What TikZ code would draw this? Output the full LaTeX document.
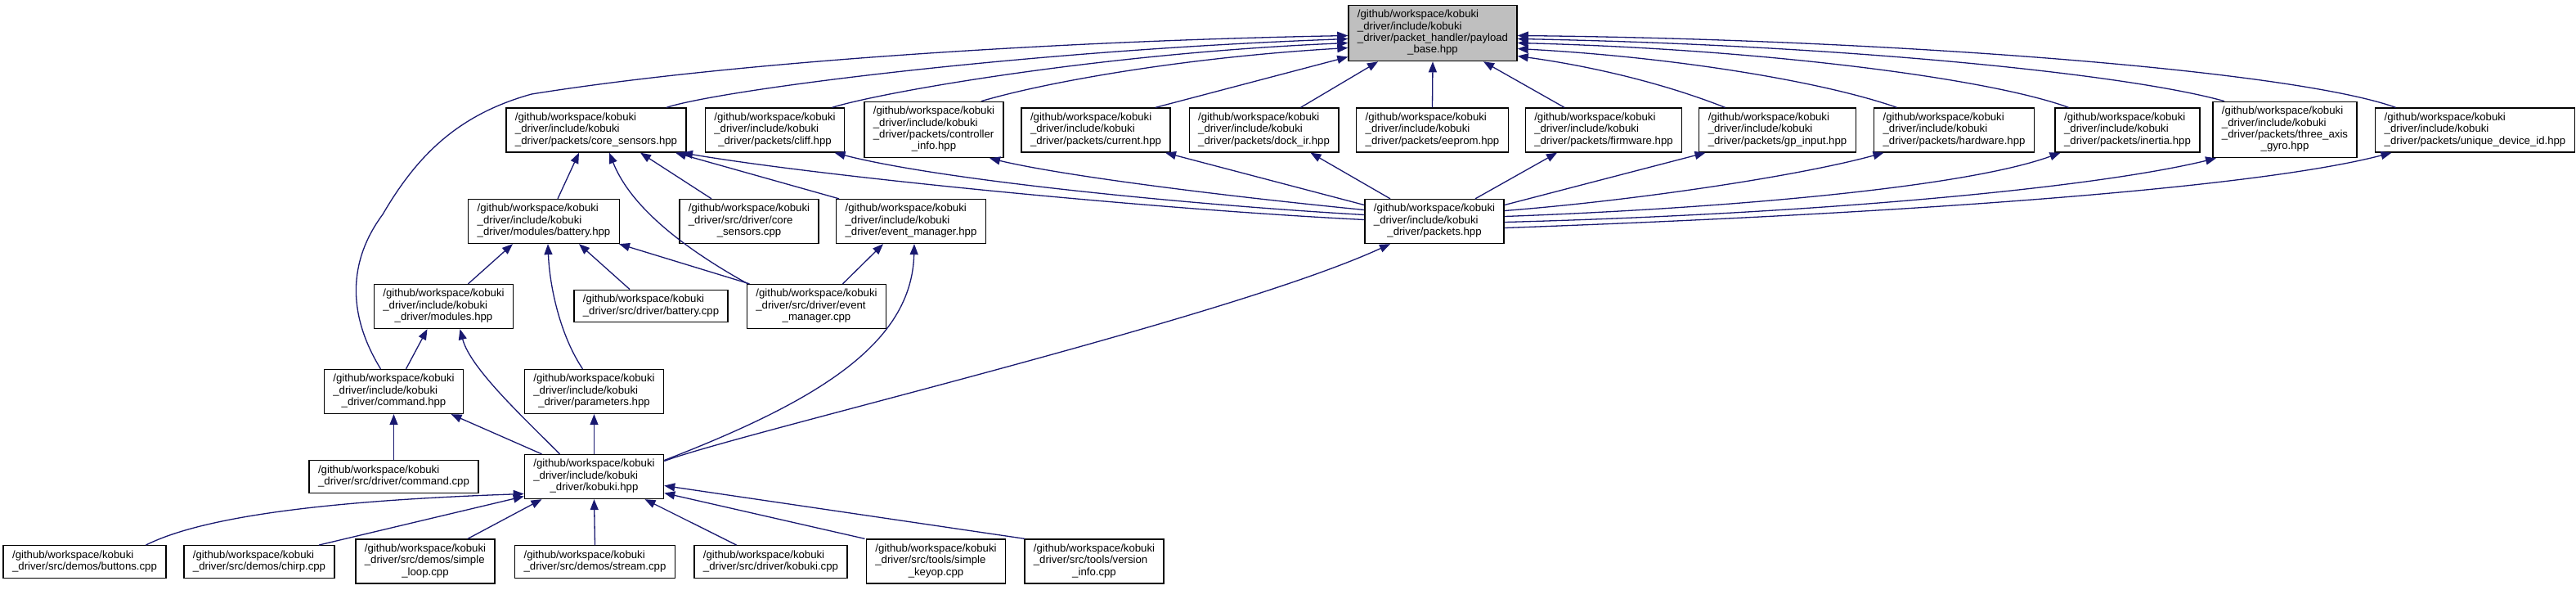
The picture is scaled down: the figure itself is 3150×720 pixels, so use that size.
\documentclass[tikz,border=0pt]{standalone}
\usepackage{fontspec}
\setmainfont{Liberation Sans}
\usetikzlibrary{arrows.meta}
\definecolor{edgeBlue}{HTML}{191970}
\definecolor{rootGray}{HTML}{BFBFBF}
\newcommand{\flab}[2]{\begin{tabular}{@{}l@{}}#1\\\multicolumn{1}{@{}c@{}}{#2}\end{tabular}}
\newcommand{\gwk}{/github/workspace/kobuki}
\newcommand{\dik}{\_driver/include/kobuki}

\begin{document}
\begin{tikzpicture}[
    x=1pt, y=-1pt,
    filebox/.style={rectangle, draw=black, fill=white, line width=1.3pt,
                    inner xsep=11pt, inner ysep=5.4pt,
                    font=\fontsize{13.2}{14.4}\selectfont},
    rootbox/.style={filebox, fill=rootGray},
    edge/.style={-{Triangle[length=13pt,width=10pt]}, line width=1.3pt, edgeBlue},
  ]
    \useasboundingbox (0,0) rectangle (3150,720);

    % included header
    \node[rootbox] (pb) at (1752,40.5) {\flab{\gwk\\\dik\\\_driver/packet\_handler/payload}{\_base.hpp}};

    % packet headers
    \node[filebox] (cs)    at (729,159)    {\flab{\gwk\\\dik}{\_driver/packets/core\_sensors.hpp}};
    \node[filebox] (cliff) at (947.5,159)  {\flab{\gwk\\\dik}{\_driver/packets/cliff.hpp}};
    \node[filebox] (ctrl)  at (1142,158.5) {\flab{\gwk\\\dik\\\_driver/packets/controller}{\_info.hpp}};
    \node[filebox] (cur)   at (1340,159)   {\flab{\gwk\\\dik}{\_driver/packets/current.hpp}};
    \node[filebox] (dock)  at (1545.5,159) {\flab{\gwk\\\dik}{\_driver/packets/dock\_ir.hpp}};
    \node[filebox] (eep)   at (1751.5,159) {\flab{\gwk\\\dik}{\_driver/packets/eeprom.hpp}};
    \node[filebox] (fw)    at (1961,159)   {\flab{\gwk\\\dik}{\_driver/packets/firmware.hpp}};
    \node[filebox] (gp)    at (2173.5,159) {\flab{\gwk\\\dik}{\_driver/packets/gp\_input.hpp}};
    \node[filebox] (hw)    at (2389.5,159) {\flab{\gwk\\\dik}{\_driver/packets/hardware.hpp}};
    \node[filebox] (inr)   at (2601.5,159) {\flab{\gwk\\\dik}{\_driver/packets/inertia.hpp}};
    \node[filebox] (gyro)  at (2794,158.5) {\flab{\gwk\\\dik\\\_driver/packets/three\_axis}{\_gyro.hpp}};
    \node[filebox] (uid)   at (3026.5,159) {\flab{\gwk\\\dik}{\_driver/packets/unique\_device\_id.hpp}};

    \node[filebox] (bh)  at (665,270.5)  {\flab{\gwk\\\dik}{\_driver/modules/battery.hpp}};
    \node[filebox] (csc) at (916,270.5)  {\flab{\gwk\\\_driver/src/driver/core}{\_sensors.cpp}};
    \node[filebox] (emh) at (1114,270.5) {\flab{\gwk\\\dik}{\_driver/event\_manager.hpp}};
    \node[filebox] (pk)  at (1754,270.5) {\flab{\gwk\\\dik}{\_driver/packets.hpp}};

    \node[filebox] (mh)  at (542.5,374.5) {\flab{\gwk\\\dik}{\_driver/modules.hpp}};
    \node[filebox] (bc)  at (796,374)     {\flab{\gwk}{\_driver/src/driver/battery.cpp}};
    \node[filebox] (emc) at (998.5,374.5) {\flab{\gwk\\\_driver/src/driver/event}{\_manager.cpp}};

    \node[filebox] (ch) at (481.5,478.5) {\flab{\gwk\\\dik}{\_driver/command.hpp}};
    \node[filebox] (ph) at (726.5,478.5) {\flab{\gwk\\\dik}{\_driver/parameters.hpp}};

    \node[filebox] (ccpp) at (481.5,582.5) {\flab{\gwk}{\_driver/src/driver/command.cpp}};
    \node[filebox] (kob)  at (726.5,582.5) {\flab{\gwk\\\dik}{\_driver/kobuki.hpp}};

    % sources
    \node[filebox] (btn)    at (103.5,686.5) {\flab{\gwk}{\_driver/src/demos/buttons.cpp}};
    \node[filebox] (chirp)  at (317,686.5)   {\flab{\gwk}{\_driver/src/demos/chirp.cpp}};
    \node[filebox] (sloop)  at (520,686)     {\flab{\gwk\\\_driver/src/demos/simple}{\_loop.cpp}};
    \node[filebox] (stream) at (727.5,686.5) {\flab{\gwk}{\_driver/src/demos/stream.cpp}};
    \node[filebox] (kcpp)   at (942.5,686.5) {\flab{\gwk}{\_driver/src/driver/kobuki.cpp}};
    \node[filebox] (skey)   at (1144.5,686)  {\flab{\gwk\\\_driver/src/tools/simple}{\_keyop.cpp}};
    \node[filebox] (vinfo)  at (1338,686)    {\flab{\gwk\\\_driver/src/tools/version}{\_info.cpp}};

    % into payload_base
    \draw[edge] ([xshift=-16pt]ch.north) .. controls (425,385) and (425,320) .. (468,262)
          .. controls (510,190) and (560,140) .. (650,115)
          .. controls (900,75) and (1300,50) .. ([yshift=-3pt]pb.west);
    \draw[edge] ([xshift=86pt]cs.north) .. controls (880,110) and (1250,62) .. ([yshift=-7pt]pb.west);
    \draw[edge] ([xshift=70pt]cliff.north) .. controls (1080,112) and (1350,65) .. ([yshift=-12pt]pb.west);
    \draw[edge] ([xshift=58pt]ctrl.north) .. controls (1280,100) and (1450,70) .. ([yshift=-18pt]pb.west);
    \draw[edge] ([xshift=73pt]cur.north) -- ([yshift=-29pt]pb.west);
    \draw[edge] ([xshift=45pt]dock.north) -- ([xshift=-67pt]pb.south);
    \draw[edge] (eep.north) -- (pb.south);
    \draw[edge] ([xshift=-48pt]fw.north) -- ([xshift=62pt]pb.south);
    \draw[edge] ([xshift=-64pt]gp.north) .. controls (2030,100) and (1940,80) .. ([yshift=-28pt]pb.east);
    \draw[edge] ([xshift=-70pt]hw.north) .. controls (2230,100) and (2050,70) .. ([yshift=-19pt]pb.east);
    \draw[edge] ([xshift=-72pt]inr.north) .. controls (2430,95) and (2150,60) .. ([yshift=-12pt]pb.east);
    \draw[edge] ([xshift=-74pt]gyro.north) .. controls (2600,90) and (2250,55) .. ([yshift=-7pt]pb.east);
    \draw[edge] ([xshift=-97pt]uid.north) .. controls (2800,85) and (2300,48) .. ([yshift=-3pt]pb.east);

    % packets.hpp
    \draw[edge] ([yshift=2pt]pk.west) .. controls (1400,255) and (1000,215) .. ([xshift=105pt]cs.south);
    \draw[edge] ([yshift=8pt]pk.west) .. controls (1450,250) and (1150,220) .. ([xshift=73pt]cliff.south);
    \draw[edge] ([yshift=14pt]pk.west) .. controls (1500,240) and (1300,215) .. ([xshift=68pt]ctrl.south);
    \draw[edge] ([yshift=20pt]pk.west) -- ([xshift=85pt]cur.south);
    \draw[edge] ([xshift=-54pt]pk.north) -- ([xshift=57pt]dock.south);
    \draw[edge] ([xshift=50pt]pk.north) -- ([xshift=-57pt]fw.south);
    \draw[edge] ([yshift=20pt]pk.east) -- ([xshift=-88pt]gp.south);
    \draw[edge] ([yshift=13pt]pk.east) .. controls (2000,245) and (2200,215) .. ([xshift=-86pt]hw.south);
    \draw[edge] ([yshift=6pt]pk.east) .. controls (2100,255) and (2400,230) .. ([xshift=-82pt]inr.south);
    \draw[edge] ([yshift=-1pt]pk.east) .. controls (2200,262) and (2550,232) .. ([xshift=-84pt]gyro.south);
    \draw[edge] ([yshift=-8pt]pk.east) .. controls (2300,262) and (2750,232) .. ([xshift=-102pt]uid.south);

    % core_sensors.hpp, battery.hpp, event_manager.hpp
    \draw[edge] ([xshift=17pt]bh.north) -- ([xshift=-21pt]cs.south);
    \draw[edge] ([xshift=-46pt]csc.north) -- ([xshift=54pt]cs.south);
    \draw[edge] ([xshift=-84pt]emc.north) .. controls (830,300) and (770,250) .. ([xshift=16pt]cs.south);
    \draw[edge] ([xshift=-88pt]emh.north) -- ([xshift=97pt]cs.south);
    \draw[edge] ([xshift=30pt]mh.north) -- ([xshift=-38pt]bh.south);
    \draw[edge] ([xshift=-26pt]bc.north) -- ([xshift=43pt]bh.south);
    \draw[edge] ([xshift=-82pt]emc.north) -- ([xshift=92pt]bh.south);
    \draw[edge] ([xshift=-14pt]ph.north) .. controls (685,410) and (672,350) .. ([xshift=5pt]bh.south);
    \draw[edge] ([xshift=32pt]emc.north) -- ([xshift=-34pt]emh.south);

    % modules, command, parameters
    \draw[edge] ([xshift=15pt]ch.north) -- ([xshift=-20pt]mh.south);
    \draw[edge] ([xshift=-42pt]kob.north) .. controls (640,510) and (575,450) .. ([xshift=20pt]mh.south);
    \draw[edge] (ccpp.north) -- (ch.south);
    \draw[edge] ([xshift=-64pt]kob.north) -- ([xshift=70pt]ch.south);
    \draw[edge] (kob.north) -- (ph.south);
    \draw[edge] ([yshift=20pt]kob.east) .. controls (1000,490) and (1115,420) .. ([xshift=4pt]emh.south);
    \draw[edge] ([yshift=19pt]kob.east) .. controls (900,530) and (1500,390) .. ([xshift=-54pt]pk.south);

    % into kobuki.hpp
    \draw[edge] ([xshift=75pt]btn.north) .. controls (260,625) and (450,610) .. ([yshift=-21pt]kob.west);
    \draw[edge] ([xshift=73pt]chirp.north) -- ([yshift=-24pt]kob.west);
    \draw[edge] ([xshift=52pt]sloop.north) -- ([xshift=-64pt]kob.south);
    \draw[edge] (stream.north) -- (kob.south);
    \draw[edge] ([xshift=-42pt]kcpp.north) -- ([xshift=62pt]kob.south);
    \draw[edge] ([xshift=-87pt]skey.north) -- ([yshift=-20pt]kob.east);
    \draw[edge] ([xshift=-85pt]vinfo.north) -- ([yshift=-11pt]kob.east);
\end{tikzpicture}
\end{document}
